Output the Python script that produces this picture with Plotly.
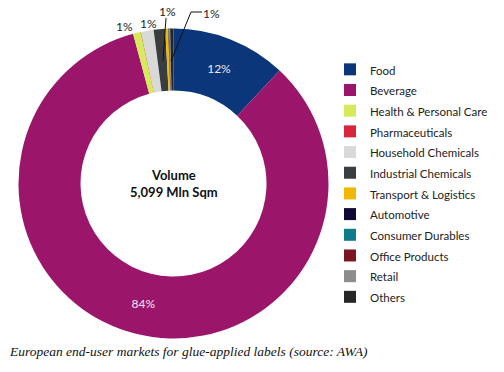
import plotly.graph_objects as go

W, H = 504, 372

categories = ["Food", "Beverage", "Health & Personal Care", "Pharmaceuticals",
              "Household Chemicals", "Industrial Chemicals", "Transport & Logistics",
              "Automotive", "Consumer Durables", "Office Products", "Retail", "Others"]
values = [12.0, 83.8, 0.8, 0.05, 1.3, 1.2, 0.3, 0.05, 0.05, 0.05, 0.05, 0.35]
slice_text = ["12%", "84%", "", "", "", "", "", "", "", "", "", ""]
colors = ["#0b3679", "#9b166a", "#d7ea5b", "#d8263f", "#d9d9d9", "#3a3d3f",
          "#f2b705", "#0e0a35", "#0e7b8a", "#7b1521", "#8c8c8c", "#252729"]

# outside small-slice labels (text, label centre px, leader path px or None)
small_labels = [
    ("1%", (114, 17), None),
    ("1%", (138, 14), None),
    ("1%", (157, 2), [(166, 18), (163, 61)]),
    ("1%", (211.5, 4), [(171, 61), (191, 12), (202, 12)]),
]

def px(x, y):
    return x / W, 1 - y / H

cx, cy, R = 173.5, 183.5, 155
legend_labels = [f'<span style="font-size:11.5px">{c}</span>' for c in categories]
fig = go.Figure(go.Pie(
    labels=legend_labels, values=values, text=slice_text,
    textinfo="text", textposition="inside", insidetextorientation="horizontal",
    marker=dict(colors=colors, line=dict(width=0)),
    hole=0.6, sort=False, direction="clockwise", rotation=0,
    textfont=dict(family="Lato", size=12, color="#f0e6f0"),
    domain=dict(x=[(cx - R) / W, (cx + R) / W], y=[(H - cy - R) / H, (H - cy + R) / H]),
))

annotations = [
    dict(text="<b>Volume<br>5,099 Mln Sqm</b>", x=px(cx, 183)[0], y=px(cx, 183)[1],
         xref="paper", yref="paper", showarrow=False,
         font=dict(family="Lato", size=13, color="#111111")),
    dict(text="<i>European end-user markets for glue-applied labels (source: AWA)</i>",
         x=px(7, 361)[0], y=px(7, 361)[1], xref="paper", yref="paper", xanchor="left",
         showarrow=False,
         font=dict(family="Liberation Serif, DejaVu Serif, serif", size=13.5, color="#111111")),
]
shapes = []
for t, (lx, ly), path in small_labels:
    annotations.append(dict(text=t, x=px(lx, ly)[0], y=px(lx, ly)[1], xref="paper", yref="paper",
                            showarrow=False, font=dict(family="Lato", size=12, color="#222222")))
    if path:
        d = "M " + " L ".join(f"{px(a, b)[0]},{px(a, b)[1]}" for a, b in path)
        shapes.append(dict(type="path", path=d, xref="paper", yref="paper",
                           line=dict(color="#111111", width=1)))

fig.update_layout(
    width=W, height=H, margin=dict(l=0, r=0, t=0, b=0),
    paper_bgcolor="white", plot_bgcolor="white",
    showlegend=True,
    legend=dict(x=330 / W, y=1 - 54 / H, xanchor="left", yanchor="top",
                font=dict(family="Lato", size=13.6, color="#222222"),
                itemclick=False, tracegroupgap=0, bgcolor="rgba(0,0,0,0)"),
    annotations=annotations, shapes=shapes,
)
fig.write_html("out.html", config={"displayModeBar": False},
               post_script="document.body.style.margin='0';")
